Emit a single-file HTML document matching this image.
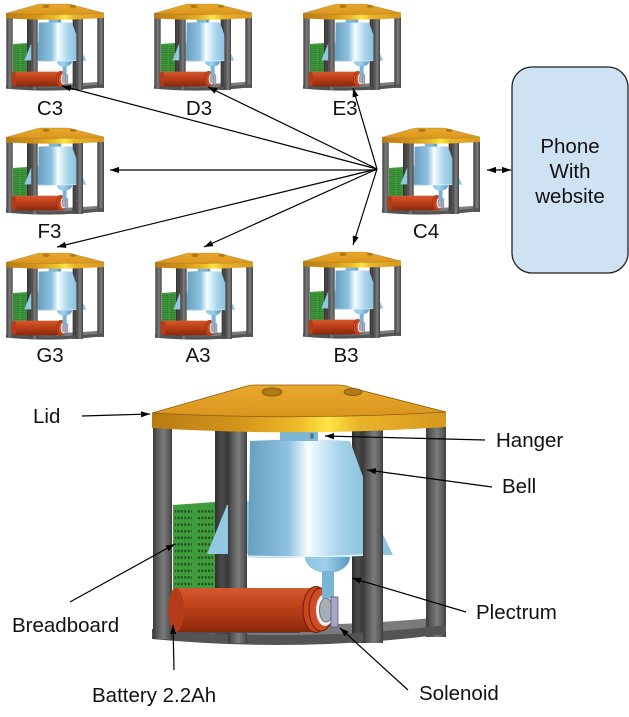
<!DOCTYPE html>
<html><head><meta charset="utf-8"><style>
html,body{margin:0;padding:0;background:#fff;}
svg{display:block;}
text{font-family:"Liberation Sans",Arial,sans-serif;font-size:20.5px;fill:#111;}
</style></head><body>
<svg width="629" height="717" viewBox="0 0 629 717" xmlns="http://www.w3.org/2000/svg">
<defs>
  <linearGradient id="rimG" x1="0" x2="1" y1="0" y2="0">
    <stop offset="0" stop-color="#b97c12"/>
    <stop offset="0.3" stop-color="#d4951c"/>
    <stop offset="0.5" stop-color="#eebc28"/>
    <stop offset="0.6" stop-color="#ffe444"/>
    <stop offset="0.7" stop-color="#e9b42a"/>
    <stop offset="1" stop-color="#d8981c"/>
  </linearGradient>
  <linearGradient id="topG" x1="0" y1="0" x2="0" y2="1">
    <stop offset="0" stop-color="#e8a82c"/>
    <stop offset="1" stop-color="#d9961e"/>
  </linearGradient>
  <linearGradient id="bellG" x1="248" y1="0" x2="364" y2="0" gradientUnits="userSpaceOnUse">
    <stop offset="0" stop-color="#689fc0"/>
    <stop offset="0.35" stop-color="#8fc2e0"/>
    <stop offset="0.52" stop-color="#f8fdff"/>
    <stop offset="0.62" stop-color="#d6edf8"/>
    <stop offset="0.78" stop-color="#a8d4ec"/>
    <stop offset="1" stop-color="#8cc2de"/>
  </linearGradient>
  <linearGradient id="domeG" x1="0" x2="1" y1="0" y2="0">
    <stop offset="0" stop-color="#8cc4e2"/>
    <stop offset="0.45" stop-color="#9fd0ec"/>
    <stop offset="1" stop-color="#5a98c0"/>
  </linearGradient>
  <linearGradient id="batG" x1="0" y1="0" x2="0" y2="1">
    <stop offset="0" stop-color="#d35a30"/>
    <stop offset="0.35" stop-color="#c4441c"/>
    <stop offset="1" stop-color="#8a280c"/>
  </linearGradient>
  <linearGradient id="postG" x1="0" x2="1" y1="0" y2="0">
    <stop offset="0" stop-color="#3a3a3a"/>
    <stop offset="0.2" stop-color="#555"/>
    <stop offset="0.55" stop-color="#7c7c7c"/>
    <stop offset="0.85" stop-color="#5a5a5a"/>
    <stop offset="1" stop-color="#3c3c3c"/>
  </linearGradient>
  <linearGradient id="postD" x1="0" x2="1" y1="0" y2="0">
    <stop offset="0" stop-color="#2f2f2f"/>
    <stop offset="0.5" stop-color="#4a4a4a"/>
    <stop offset="1" stop-color="#3a3a3a"/>
  </linearGradient>
  <pattern id="holes" width="3.4" height="6.6" patternUnits="userSpaceOnUse">
    <rect width="3.4" height="6.6" fill="#3f9b3c"/>
    <rect x="0.8" y="2" width="1.8" height="2.4" fill="#1c4a1c"/>
  </pattern>
  <marker id="ah" markerUnits="userSpaceOnUse" markerWidth="10" markerHeight="8" refX="9" refY="4" orient="auto-start-reverse">
    <path d="M0,0.9 L9,4 L0,7.1 Z" fill="#000"/>
  </marker>

  <g id="unit">
    <!-- base top surface -->
    <path d="M156,621 Q300,631 444,617 L444,630 Q300,646 156,634 Z" fill="#7b7b7b"/>
    <!-- breadboard -->
    <path d="M173,505 L215,502 L215,592 L173,592 Z" fill="#3f9b3c"/>
    <rect x="175" y="509" width="17" height="82" fill="url(#holes)"/>
    <rect x="197" y="508" width="16" height="83" fill="url(#holes)"/>
    <!-- back posts -->
    <rect x="215" y="430" width="13" height="213" fill="url(#postD)"/>
    <rect x="352" y="430" width="11" height="213" fill="url(#postD)"/>
    <rect x="426" y="427" width="20" height="210" fill="url(#postG)"/>
    <!-- base front -->
    <path d="M152,629 Q300,643 446,625 L446,634 Q300,653 152,639 Z" fill="#545454"/>
    <!-- left post -->
    <rect x="153" y="428" width="19" height="211" fill="url(#postG)"/>
    <!-- bell wings -->
    <path d="M227,505 L207,554 L252,554 L252,500 Z" fill="#93c8e3"/>
    <path d="M360,488 L393,555 L360,555 Z" fill="#8cc3e0"/>
    <!-- front posts of pairs -->
    <rect x="228" y="430" width="19" height="213" fill="url(#postG)"/>
    <rect x="363" y="430" width="20" height="213" fill="url(#postG)"/>
    <!-- block under battery -->
    <rect x="188" y="618" width="112" height="15" fill="#4c4c4c"/>
    <!-- battery -->
    <rect x="175" y="588" width="140" height="44" fill="url(#batG)"/>
    <ellipse cx="176" cy="610" rx="8" ry="22" fill="#b53c18"/>
    <ellipse cx="316" cy="609.5" rx="13" ry="23" fill="#c84620" stroke="#6e1e08" stroke-width="1"/>
    <ellipse cx="321" cy="609.5" rx="12" ry="21.5" fill="#d04c26" stroke="#6e1e08" stroke-width="1"/>
    <ellipse cx="325" cy="610" rx="9" ry="16" fill="#f2f2f2"/>
    <ellipse cx="326" cy="610" rx="6.5" ry="12" fill="#a6aeb6" stroke="#6c747c" stroke-width="1"/>
    <!-- bell body -->
    <path d="M250,441 Q300,438 350,441 L363,477 L363,556 Q306,559 248,557 Z" fill="url(#bellG)"/>
    <path d="M248,556 Q306,558 363,555" fill="none" stroke="#e8f6fc" stroke-width="1.2"/>
    <!-- hanger -->
    <rect x="280" y="430" width="38" height="11" fill="#7eb6d6"/>
    <ellipse cx="312" cy="436" rx="2" ry="3" fill="#4a7a9a"/>
    <!-- dome and stem -->
    <path d="M305,557 A22.5,16 0 0 0 350,557 Z" fill="url(#domeG)"/>
    <rect x="322" y="571" width="12" height="27" fill="#7ab4d4"/>
    <!-- solenoid -->
    <rect x="331" y="597" width="7" height="30" fill="#a7a7c8" stroke="#55557a" stroke-width="0.8"/>
    <!-- lid rim -->
    <path d="M152,413 Q299,421 446,412 L446,427 Q299,437 152,428 Z" fill="url(#rimG)"/>
    <!-- lid top -->
    <path d="M152,413 L247,386 Q250,385 256,385 L338,385 Q345,385 352,388 L446,412 Q299,421 152,413 Z" fill="url(#topG)" stroke="#8a5a10" stroke-width="0.8"/>
    <ellipse cx="272" cy="392" rx="10" ry="4" fill="#b27c14" stroke="#7a5008" stroke-width="0.8"/>
    <ellipse cx="353" cy="392" rx="9" ry="3.5" fill="#b27c14" stroke="#7a5008" stroke-width="0.8"/>
  </g>
</defs>

<!-- small units -->
<use href="#unit" transform="translate(6,4) scale(0.3333) translate(-152,-385)"/>
<use href="#unit" transform="translate(154,4) scale(0.3333) translate(-152,-385)"/>
<use href="#unit" transform="translate(303,4) scale(0.3333) translate(-152,-385)"/>
<use href="#unit" transform="translate(6,128) scale(0.3333) translate(-152,-385)"/>
<use href="#unit" transform="translate(382,128) scale(0.3333) translate(-152,-385)"/>
<use href="#unit" transform="translate(6,253) scale(0.3333) translate(-152,-385)"/>
<use href="#unit" transform="translate(155,253) scale(0.3333) translate(-152,-385)"/>
<use href="#unit" transform="translate(303,252) scale(0.3333) translate(-152,-385)"/>

<!-- large unit -->
<use href="#unit"/>

<!-- small labels -->
<text x="50" y="115" text-anchor="middle">C3</text>
<text x="199" y="115" text-anchor="middle">D3</text>
<text x="345" y="115" text-anchor="middle">E3</text>
<text x="49.5" y="238" text-anchor="middle">F3</text>
<text x="426" y="238" text-anchor="middle">C4</text>
<text x="50" y="362" text-anchor="middle">G3</text>
<text x="198" y="362" text-anchor="middle">A3</text>
<text x="346" y="362" text-anchor="middle">B3</text>

<!-- hub arrows -->
<g stroke="#000" stroke-width="1.2" fill="none" marker-end="url(#ah)">
  <line x1="377" y1="169" x2="62" y2="86"/>
  <line x1="377" y1="169" x2="208" y2="87"/>
  <line x1="377" y1="169" x2="353" y2="88"/>
  <line x1="377" y1="170" x2="110" y2="170"/>
  <line x1="377" y1="169" x2="57" y2="247"/>
  <line x1="377" y1="169" x2="204" y2="247"/>
  <line x1="377" y1="169" x2="353" y2="245"/>
</g>
<line x1="487" y1="170" x2="511" y2="170" stroke="#000" stroke-width="1.2" marker-start="url(#ah)" marker-end="url(#ah)"/>

<!-- phone -->
<rect x="512" y="67" width="116" height="206" rx="20" ry="20" fill="#cfe2f3" stroke="#222" stroke-width="1.3"/>
<text x="570" y="153" text-anchor="middle">Phone</text>
<text x="570" y="178" text-anchor="middle">With</text>
<text x="570" y="203" text-anchor="middle">website</text>

<!-- large labels -->
<text x="33" y="423">Lid</text>
<text x="496" y="447">Hanger</text>
<text x="502" y="493">Bell</text>
<text x="12" y="632">Breadboard</text>
<text x="476" y="619">Plectrum</text>
<text x="92" y="702">Battery 2.2Ah</text>
<text x="419" y="700">Solenoid</text>

<g stroke="#000" stroke-width="1.2" fill="none" marker-end="url(#ah)">
  <line x1="82" y1="416" x2="150" y2="414"/>
  <line x1="485" y1="440" x2="325" y2="436"/>
  <line x1="492" y1="487" x2="367" y2="470"/>
  <line x1="70" y1="602" x2="175" y2="544"/>
  <line x1="466" y1="612" x2="352" y2="578"/>
  <line x1="174" y1="670" x2="173" y2="625"/>
  <line x1="408" y1="690" x2="340" y2="628"/>
</g>
</svg>
</body></html>
